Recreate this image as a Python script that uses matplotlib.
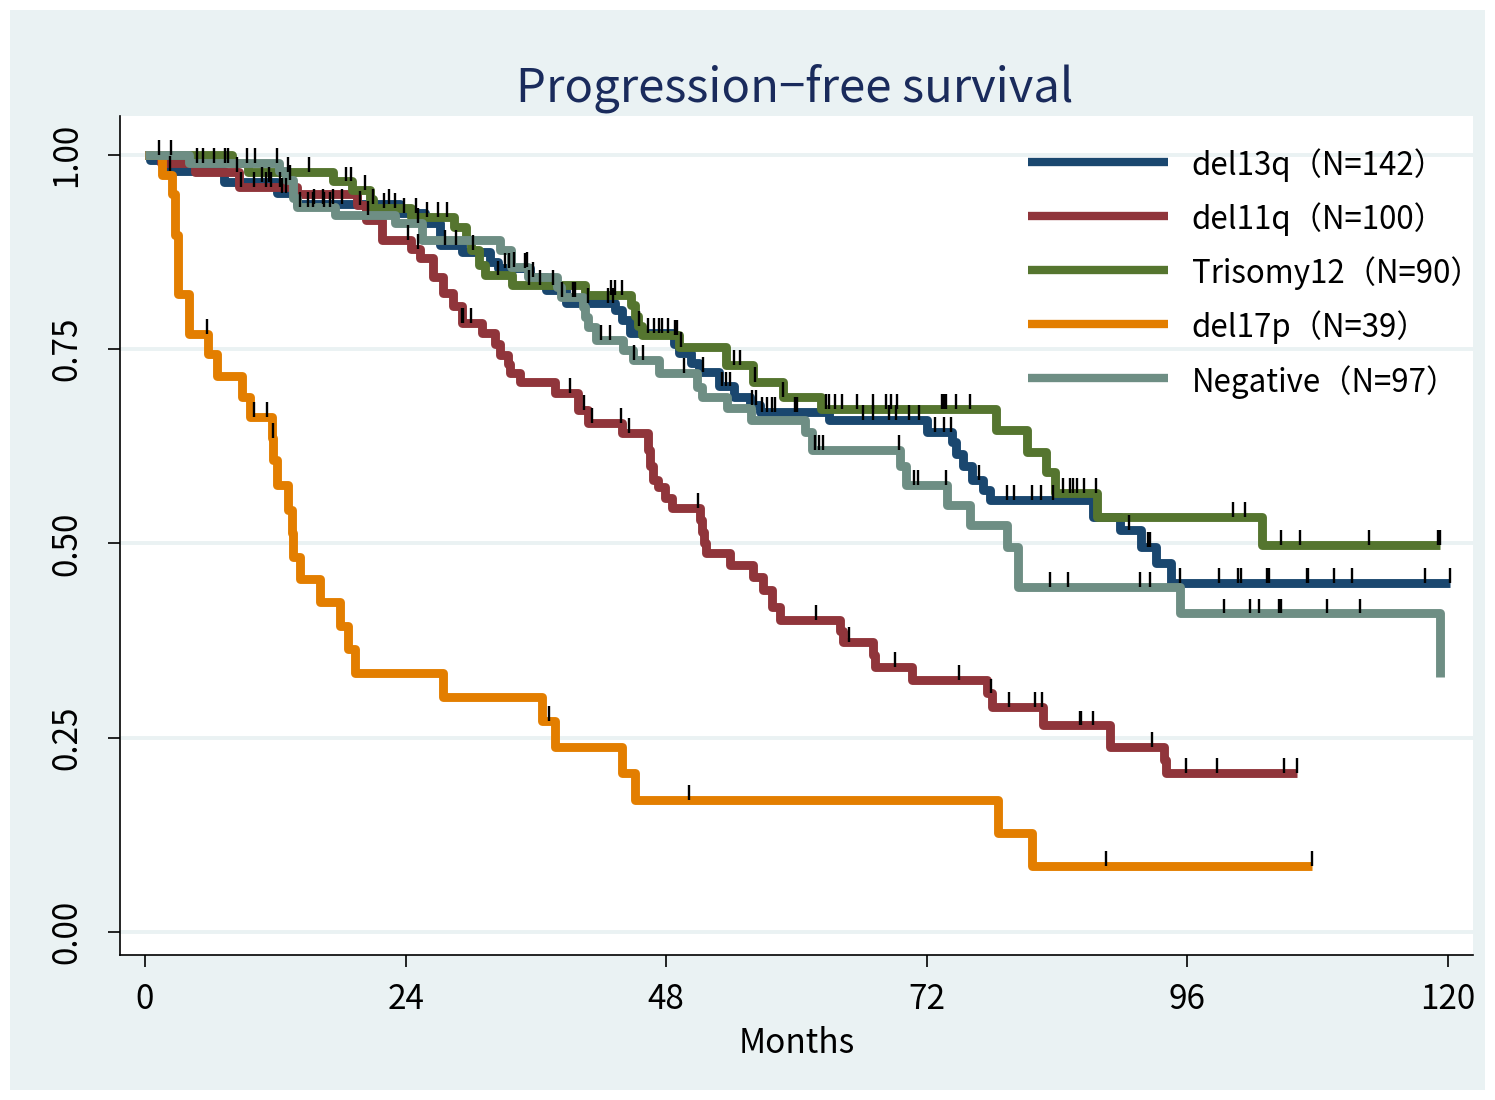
import numpy as np
import matplotlib
matplotlib.use('Agg')
import matplotlib.pyplot as plt
from matplotlib.patches import Rectangle

plt.rcParams['font.family'] = ['Noto Sans CJK JP', 'DejaVu Sans']

# ---- data (months, survival after each drop) ----
del13q_t = [0.5, 1.8, 7.3, 12.2, 14.0, 23.5, 25.8, 27.2, 29.2, 31.8, 32.5, 35.5, 36.9, 38.8, 43.3,
            43.9, 44.7, 48.7, 49.2, 50.3, 51.0, 52.9, 54.2, 55.7, 56.6, 63.0, 72.0, 74.3, 74.7, 75.3,
            76.2, 77.2, 77.8, 87.3, 89.8, 91.7, 93.1, 94.5]
del13q_s = [0.993, 0.979, 0.965, 0.951, 0.937, 0.925, 0.912, 0.884, 0.875, 0.862, 0.855, 0.843, 0.826, 0.810, 0.800,
            0.788, 0.771, 0.757, 0.745, 0.732, 0.721, 0.702, 0.689, 0.678, 0.669, 0.659, 0.644, 0.630, 0.615, 0.599,
            0.582, 0.569, 0.556, 0.534, 0.517, 0.496, 0.475, 0.449]
del13q_end = 120.2
del13q_cens = [2.3, 10.8, 11.4, 12.6, 13.0, 15.6, 16.4, 17.3, 18.1, 21.0, 22.5, 23.9, 25.0, 27.6, 28.6,
               33.2, 33.5, 35.0, 40.8, 42.6, 43.1, 46.3, 46.9, 47.3, 47.6, 48.2, 51.4, 53.1, 53.5, 53.9,
               55.9, 56.3, 56.8, 57.3, 57.7, 58.0, 59.9, 60.0, 66.1, 67.0, 68.5, 69.2, 70.4, 71.3, 72.8,
               73.6, 74.2, 76.8, 79.4, 80.0, 81.7, 82.5, 83.6, 90.6, 92.4, 92.6, 95.3, 98.9, 100.7, 100.9,
               103.3, 103.5, 107.0, 107.1, 109.5, 111.2, 117.9, 120.2]

del11q_t = [1.5, 4.6, 8.7, 14.0, 19.5, 20.4, 21.8, 24.5, 25.3, 26.5, 27.4, 28.4, 29.2, 31.0, 32.2,
            32.7, 33.4, 33.6, 34.5, 37.8, 39.9, 40.8, 43.9, 46.3, 46.5, 46.8, 47.2, 47.9, 48.5, 51.1,
            51.3, 51.5, 51.7, 53.9, 56.0, 56.9, 57.7, 58.5, 64.0, 64.3, 67.0, 67.2, 70.6, 77.5, 78.0,
            82.7, 88.9, 93.8, 94.0]
del11q_s = [0.990, 0.978, 0.959, 0.950, 0.935, 0.916, 0.891, 0.879, 0.867, 0.843, 0.822, 0.805, 0.784, 0.771, 0.757,
            0.743, 0.731, 0.719, 0.708, 0.694, 0.672, 0.655, 0.642, 0.620, 0.600, 0.582, 0.573, 0.559, 0.546, 0.530,
            0.515, 0.500, 0.488, 0.472, 0.457, 0.440, 0.418, 0.402, 0.387, 0.373, 0.357, 0.341, 0.324, 0.307, 0.290,
            0.266, 0.238, 0.221, 0.205]
del11q_end = 106.1
del11q_cens = [8.5, 8.8, 10.0, 11.1, 11.6, 12.4, 19.8, 24.2, 25.1, 29.2, 29.3, 30.0, 39.1, 40.4, 41.2,
               43.8, 44.6, 50.9, 61.8, 64.8, 69.1, 75.0, 77.9, 79.6, 82.0, 82.6, 86.1, 86.2, 87.3, 92.7,
               95.9, 98.7, 104.9, 106.1]

tri12_t = [8.0, 9.5, 17.3, 19.1, 20.7, 21.0, 24.5, 28.5, 29.6, 30.0, 30.8, 31.3, 33.8, 40.5, 44.8,
           45.1, 45.4, 45.8, 49.2, 53.5, 56.0, 58.8, 62.3, 78.4, 81.2, 83.0, 83.8, 87.7, 102.9]
tri12_s = [0.989, 0.978, 0.966, 0.955, 0.943, 0.932, 0.920, 0.907, 0.890, 0.878, 0.858, 0.845, 0.833, 0.820, 0.807,
           0.793, 0.780, 0.768, 0.753, 0.730, 0.708, 0.689, 0.673, 0.646, 0.618, 0.592, 0.565, 0.534, 0.498]
tri12_end = 119.3
tri12_cens = [13.2, 15.1, 18.5, 19.0, 20.3, 22.0, 23.0, 26.0, 27.0, 27.8, 30.2, 32.5, 35.4, 36.4, 37.6,
              42.9, 43.3, 43.9, 45.5, 48.8, 49.0, 49.4, 54.2, 54.8, 56.2, 58.8, 62.7, 63.0, 63.5, 64.2,
              65.6, 67.0, 68.2, 68.7, 69.3, 73.4, 73.6, 73.8, 74.7, 76.0, 84.5, 85.2, 85.5, 85.8, 86.5,
              87.6, 100.2, 101.3, 104.6, 106.4, 112.7, 119.1, 119.3]

del17p_t = [1.6, 2.5, 2.8, 3.0, 4.1, 5.8, 6.6, 8.9, 9.7, 11.7, 11.8, 12.2, 13.2, 13.5, 13.6,
            14.3, 16.1, 18.0, 18.7, 19.3, 27.4, 36.6, 37.8, 43.9, 45.1, 78.6, 81.7]
del17p_s = [0.974, 0.949, 0.897, 0.821, 0.770, 0.744, 0.716, 0.689, 0.663, 0.636, 0.607, 0.575, 0.543, 0.514, 0.483,
            0.454, 0.424, 0.394, 0.364, 0.333, 0.302, 0.272, 0.238, 0.204, 0.170, 0.128, 0.085]
del17p_end = 107.5
del17p_cens = [5.7, 10.0, 11.2, 11.75, 37.2, 50.1, 88.5, 107.5]

neg_t = [4.1, 12.3, 13.0, 13.6, 14.0, 17.5, 23.0, 25.5, 32.7, 33.7, 35.3, 37.9, 38.3, 40.3, 40.5,
         40.8, 41.5, 44.0, 44.9, 47.3, 50.8, 51.3, 53.6, 55.8, 60.8, 61.4, 69.5, 70.1, 73.9, 76.0,
         79.4, 80.4, 95.3, 119.3]
neg_s = [0.990, 0.979, 0.968, 0.945, 0.933, 0.922, 0.912, 0.891, 0.878, 0.856, 0.843, 0.830, 0.817, 0.804, 0.791,
         0.778, 0.762, 0.749, 0.736, 0.719, 0.701, 0.689, 0.674, 0.659, 0.643, 0.620, 0.600, 0.575, 0.550, 0.524,
         0.496, 0.444, 0.410, 0.328]
neg_end = 119.3
neg_cens = [1.3, 2.4, 4.8, 5.3, 6.4, 7.4, 7.6, 9.4, 10.1, 12.2, 13.4, 14.3, 15.0, 15.5, 16.5,
            17.0, 20.5, 25.1, 34.0, 35.2, 35.7, 38.4, 39.4, 39.6, 42.0, 42.8, 45.0, 45.9, 49.6, 61.7,
            62.1, 62.4, 69.4, 70.8, 71.2, 73.8, 83.3, 85.0, 91.6, 92.6, 99.4, 101.8, 102.6, 104.4, 104.6,
            108.9, 111.9]

labels = ['del13q（N=142）', 'del11q（N=100）', 'Trisomy12（N=90）', 'del17p（N=39）', 'Negative（N=97）']
colors = ['#1A476F', '#90353B', '#55752F', '#E37E00', '#6E8E84']
x_ticks = [0, 24, 48, 72, 96, 120]
y_ticks = [0.0, 0.25, 0.5, 0.75, 1.0]

series = [(del13q_t, del13q_s, del13q_end, del13q_cens),
          (del11q_t, del11q_s, del11q_end, del11q_cens),
          (tri12_t, tri12_s, tri12_end, tri12_cens),
          (del17p_t, del17p_s, del17p_end, del17p_cens),
          (neg_t, neg_s, neg_end, neg_cens)]


def km_steps(t, s, t_end):
    x = np.r_[0.0, t, t_end]
    y = np.r_[1.0, s, s[-1]]
    return x, y


BG = '#EAF2F3'
W, H = 1495, 1100
fig = plt.figure(figsize=(W / 100, H / 100), dpi=100, facecolor='white')
fig.patches.append(Rectangle((10 / W, 10 / H), 1475 / W, 1080 / H, transform=fig.transFigure,
                             facecolor=BG, edgecolor='none', zorder=-10))

ax = fig.add_axes([120 / W, 1 - 955 / H, 1353 / W, 839 / H])
ax.set_facecolor('white')
ax.set_xlim(-2.3, 122.3)
ax.set_ylim(-0.0296, 1.050)

for yv in y_ticks:
    ax.axhline(yv, color=BG, lw=2.8, zorder=1)

marks = []
for (t, s, t_end, cens), col, lab in zip(series, colors, labels):
    x, y = km_steps(t, s, t_end)
    ax.step(x, y, where='post', color=col, lw=6.4, solid_joinstyle='round',
            solid_capstyle='butt', zorder=2)
    idx = np.searchsorted(x, cens, side='right') - 1
    marks.append((np.asarray(cens), y[idx]))

for c, lev in marks:
    ax.vlines(c, lev, lev + 0.019, color='black', lw=1.7, zorder=3)

# legend drawn in axes coordinates
for i, (col, lab) in enumerate(zip(colors, labels)):
    yy = 0.945 - i * 0.0644
    ax.plot([0.671, 0.7746], [yy, yy], transform=ax.transAxes, color=col, lw=6.0,
            solid_capstyle='butt', clip_on=False, zorder=4)
    ax.text(0.792, yy - 0.004, lab, transform=ax.transAxes, fontsize=22.5, va='center', ha='left',
            color='black', zorder=4)

for side in ['top', 'right']:
    ax.spines[side].set_visible(False)
for side in ['left', 'bottom']:
    ax.spines[side].set_linewidth(1.2)

ax.set_xticks(x_ticks)
ax.set_xticklabels([str(v) for v in x_ticks])
ax.set_yticks(y_ticks)
ax.set_yticklabels([f'{v:.2f}' for v in y_ticks], rotation=90, va='center')
ax.tick_params(axis='both', direction='out', length=8.6, width=1.2, labelsize=24, colors='black')
ax.tick_params(axis='x', pad=11)
ax.tick_params(axis='y', pad=17)

ax.set_xlabel('Months', fontsize=24)
ax.xaxis.set_label_coords(0.5, -0.1050)
ax.xaxis.label.set_va('center')

fig.text(795 / W, 1 - 88 / H, 'Progression−free survival', fontsize=34, color='#1A2B5C',
         ha='center', va='center')

fig.savefig('out.png', dpi=100, facecolor=fig.get_facecolor())
